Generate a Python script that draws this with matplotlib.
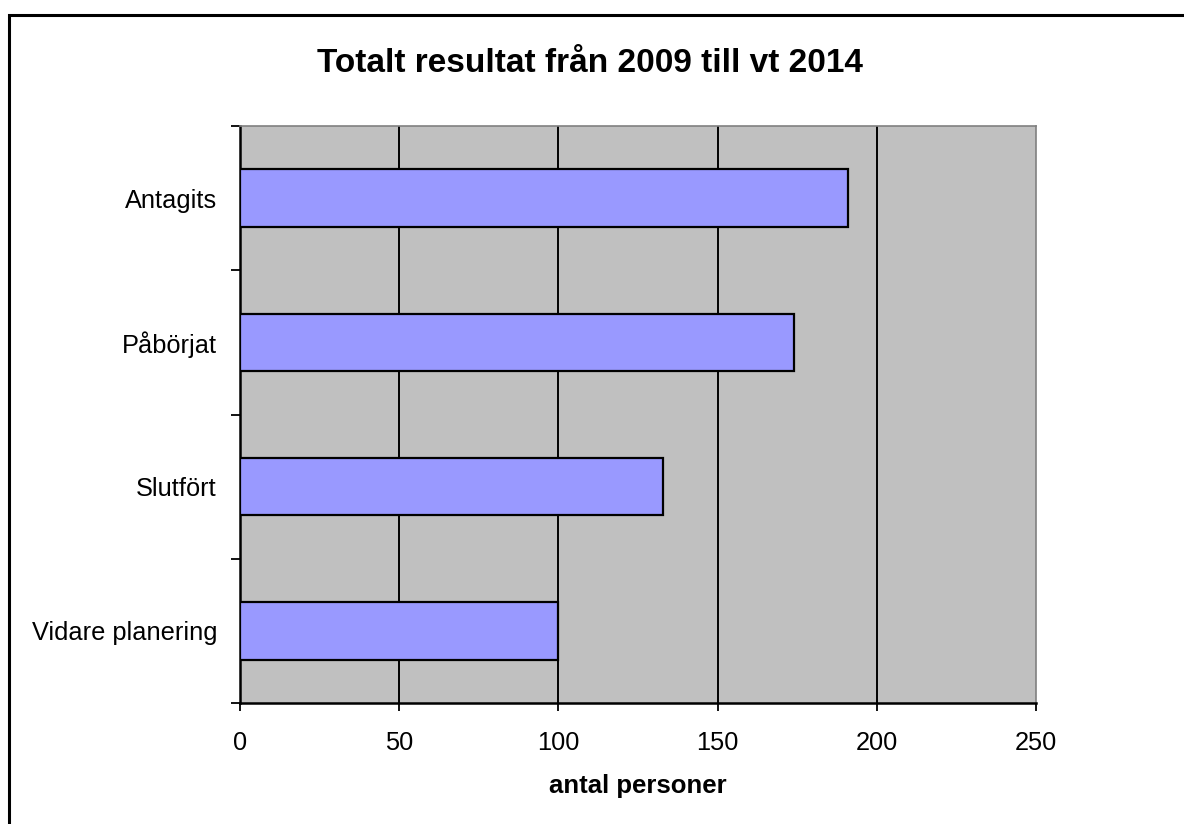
import matplotlib
matplotlib.use("Agg")
import matplotlib.pyplot as plt
from matplotlib.patches import Rectangle

categories = ["Antagits", "Påbörjat", "Slutfört", "Vidare planering"]
values = [191, 174, 133, 100]
xticks = [0, 50, 100, 150, 200, 250]
title = "Totalt resultat från 2009 till vt 2014"
xlabel = "antal personer"

plt.rcParams['font.family'] = ['Liberation Sans', 'DejaVu Sans']

W, H = 1184, 824
fig = plt.figure(figsize=(W / 100, H / 100), dpi=100)
fig.patch.set_facecolor("white")
ax = fig.add_axes([240 / W, 1 - 703 / H, (1036 - 240) / W, (703 - 126) / H])
ax.set_facecolor("#C0C0C0")

pos = list(range(len(categories)))
ax.barh(pos, values, height=0.4, color="#9999FF", edgecolor="black",
        linewidth=1.6, zorder=3)

ax.set_xlim(0, 250)
ax.set_ylim(len(categories) - 0.5, -0.5)
ax.set_xticks(xticks)
ax.set_xticklabels([str(v) for v in xticks])
ax.set_yticks(pos)
ax.set_yticklabels(categories)
ax.set_yticks([p - 0.5 for p in pos] + [len(categories) - 0.5], minor=True)

ax.tick_params(axis="y", which="major", length=0, pad=23 * 0.72, labelsize=18.3)
ax.tick_params(axis="y", which="minor", length=6.5, width=1.3, direction="out", color="black")
ax.tick_params(axis="x", which="major", length=6, width=1.3, direction="out",
               pad=14, labelsize=18.3)

for x in xticks[1:-1]:
    ax.axvline(x, color="black", linewidth=1.4, zorder=1)

for side in ["top", "right"]:
    ax.spines[side].set_color("#808080")
    ax.spines[side].set_linewidth(1.2)
for side in ["left", "bottom"]:
    ax.spines[side].set_color("black")
    ax.spines[side].set_linewidth(1.8)

ax.set_xlabel(xlabel, fontsize=18.5, fontweight="bold", labelpad=14)

fig.text(590 / W, 1 - 63 / H, title, ha="center", va="center",
         fontsize=24, fontweight="bold")

frame = Rectangle((9 / W, -0.1), 1.2, 1 - 15 / H + 0.1, transform=fig.transFigure,
                  fill=False, edgecolor="black", linewidth=2.2)
fig.patches.append(frame)

fig.savefig("out.png", dpi=100)
